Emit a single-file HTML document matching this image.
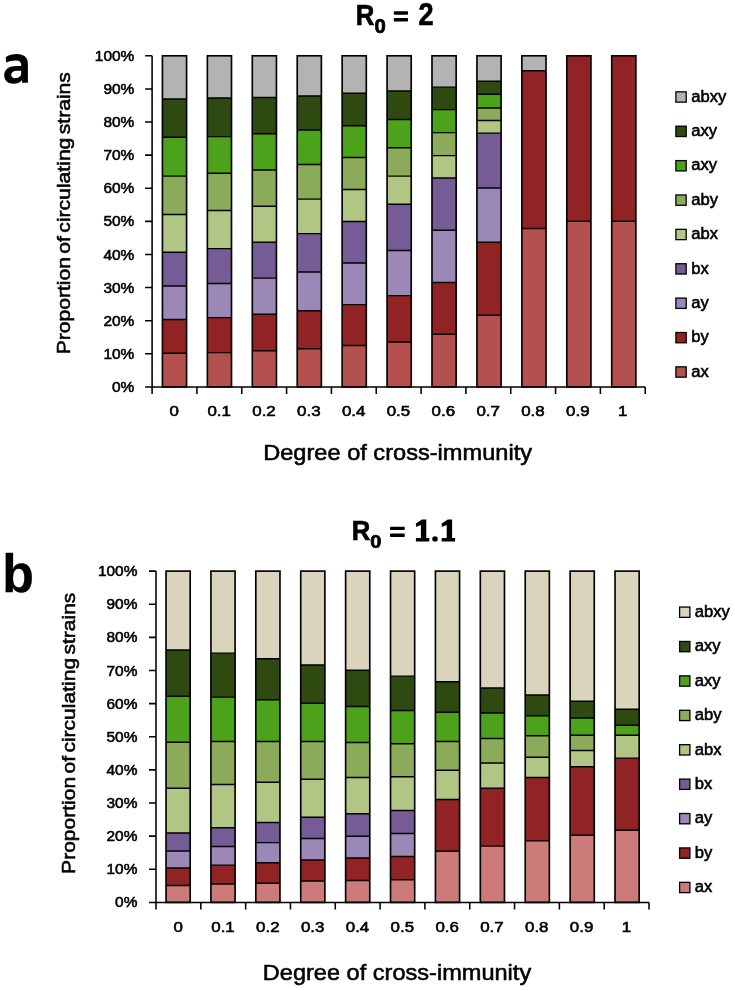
<!DOCTYPE html>
    <html><head><meta charset="utf-8"><style>
    html,body{margin:0;padding:0;background:#fff;width:735px;height:990px;overflow:hidden}
    svg{display:block;will-change:transform}
    text{font-family:"Liberation Sans", sans-serif;fill:#000}
    </style></head><body>
    <svg width="735" height="990" viewBox="0 0 735 990">
    <rect x="162.43" y="353.20" width="24.15" height="33.70" fill="#B4504D"/>
<rect x="162.43" y="319.40" width="24.15" height="33.80" fill="#922324"/>
<rect x="162.43" y="286.00" width="24.15" height="33.40" fill="#9B88B7"/>
<rect x="162.43" y="252.20" width="24.15" height="33.80" fill="#755C97"/>
<rect x="162.43" y="214.40" width="24.15" height="37.80" fill="#B1C685"/>
<rect x="162.43" y="176.10" width="24.15" height="38.30" fill="#8CAB5A"/>
<rect x="162.43" y="137.20" width="24.15" height="38.90" fill="#4DA21B"/>
<rect x="162.43" y="99.00" width="24.15" height="38.20" fill="#2F4A11"/>
<rect x="162.43" y="55.80" width="24.15" height="43.20" fill="#B3B3B3"/>
<path d="M162.43 353.20H186.57M162.43 319.40H186.57M162.43 286.00H186.57M162.43 252.20H186.57M162.43 214.40H186.57M162.43 176.10H186.57M162.43 137.20H186.57M162.43 99.00H186.57" stroke="#000" stroke-width="1.45"/>
<rect x="162.43" y="55.80" width="24.15" height="331.10" fill="none" stroke="#000" stroke-width="1.65"/>
<rect x="207.36" y="352.60" width="24.15" height="34.30" fill="#B4504D"/>
<rect x="207.36" y="317.60" width="24.15" height="35.00" fill="#922324"/>
<rect x="207.36" y="283.50" width="24.15" height="34.10" fill="#9B88B7"/>
<rect x="207.36" y="248.60" width="24.15" height="34.90" fill="#755C97"/>
<rect x="207.36" y="210.50" width="24.15" height="38.10" fill="#B1C685"/>
<rect x="207.36" y="173.30" width="24.15" height="37.20" fill="#8CAB5A"/>
<rect x="207.36" y="136.60" width="24.15" height="36.70" fill="#4DA21B"/>
<rect x="207.36" y="97.90" width="24.15" height="38.70" fill="#2F4A11"/>
<rect x="207.36" y="55.80" width="24.15" height="42.10" fill="#B3B3B3"/>
<path d="M207.36 352.60H231.50M207.36 317.60H231.50M207.36 283.50H231.50M207.36 248.60H231.50M207.36 210.50H231.50M207.36 173.30H231.50M207.36 136.60H231.50M207.36 97.90H231.50" stroke="#000" stroke-width="1.45"/>
<rect x="207.36" y="55.80" width="24.15" height="331.10" fill="none" stroke="#000" stroke-width="1.65"/>
<rect x="252.29" y="350.70" width="24.15" height="36.20" fill="#B4504D"/>
<rect x="252.29" y="314.20" width="24.15" height="36.50" fill="#922324"/>
<rect x="252.29" y="278.10" width="24.15" height="36.10" fill="#9B88B7"/>
<rect x="252.29" y="242.20" width="24.15" height="35.90" fill="#755C97"/>
<rect x="252.29" y="206.30" width="24.15" height="35.90" fill="#B1C685"/>
<rect x="252.29" y="169.90" width="24.15" height="36.40" fill="#8CAB5A"/>
<rect x="252.29" y="133.70" width="24.15" height="36.20" fill="#4DA21B"/>
<rect x="252.29" y="97.40" width="24.15" height="36.30" fill="#2F4A11"/>
<rect x="252.29" y="55.80" width="24.15" height="41.60" fill="#B3B3B3"/>
<path d="M252.29 350.70H276.44M252.29 314.20H276.44M252.29 278.10H276.44M252.29 242.20H276.44M252.29 206.30H276.44M252.29 169.90H276.44M252.29 133.70H276.44M252.29 97.40H276.44" stroke="#000" stroke-width="1.45"/>
<rect x="252.29" y="55.80" width="24.15" height="331.10" fill="none" stroke="#000" stroke-width="1.65"/>
<rect x="297.21" y="348.70" width="24.15" height="38.20" fill="#B4504D"/>
<rect x="297.21" y="310.70" width="24.15" height="38.00" fill="#922324"/>
<rect x="297.21" y="272.00" width="24.15" height="38.70" fill="#9B88B7"/>
<rect x="297.21" y="233.60" width="24.15" height="38.40" fill="#755C97"/>
<rect x="297.21" y="199.10" width="24.15" height="34.50" fill="#B1C685"/>
<rect x="297.21" y="164.40" width="24.15" height="34.70" fill="#8CAB5A"/>
<rect x="297.21" y="129.90" width="24.15" height="34.50" fill="#4DA21B"/>
<rect x="297.21" y="96.00" width="24.15" height="33.90" fill="#2F4A11"/>
<rect x="297.21" y="55.80" width="24.15" height="40.20" fill="#B3B3B3"/>
<path d="M297.21 348.70H321.36M297.21 310.70H321.36M297.21 272.00H321.36M297.21 233.60H321.36M297.21 199.10H321.36M297.21 164.40H321.36M297.21 129.90H321.36M297.21 96.00H321.36" stroke="#000" stroke-width="1.45"/>
<rect x="297.21" y="55.80" width="24.15" height="331.10" fill="none" stroke="#000" stroke-width="1.65"/>
<rect x="342.15" y="345.50" width="24.15" height="41.40" fill="#B4504D"/>
<rect x="342.15" y="304.60" width="24.15" height="40.90" fill="#922324"/>
<rect x="342.15" y="263.00" width="24.15" height="41.60" fill="#9B88B7"/>
<rect x="342.15" y="221.50" width="24.15" height="41.50" fill="#755C97"/>
<rect x="342.15" y="189.40" width="24.15" height="32.10" fill="#B1C685"/>
<rect x="342.15" y="157.40" width="24.15" height="32.00" fill="#8CAB5A"/>
<rect x="342.15" y="125.70" width="24.15" height="31.70" fill="#4DA21B"/>
<rect x="342.15" y="93.30" width="24.15" height="32.40" fill="#2F4A11"/>
<rect x="342.15" y="55.80" width="24.15" height="37.50" fill="#B3B3B3"/>
<path d="M342.15 345.50H366.30M342.15 304.60H366.30M342.15 263.00H366.30M342.15 221.50H366.30M342.15 189.40H366.30M342.15 157.40H366.30M342.15 125.70H366.30M342.15 93.30H366.30" stroke="#000" stroke-width="1.45"/>
<rect x="342.15" y="55.80" width="24.15" height="331.10" fill="none" stroke="#000" stroke-width="1.65"/>
<rect x="387.07" y="342.00" width="24.15" height="44.90" fill="#B4504D"/>
<rect x="387.07" y="295.60" width="24.15" height="46.40" fill="#922324"/>
<rect x="387.07" y="250.50" width="24.15" height="45.10" fill="#9B88B7"/>
<rect x="387.07" y="204.20" width="24.15" height="46.30" fill="#755C97"/>
<rect x="387.07" y="176.10" width="24.15" height="28.10" fill="#B1C685"/>
<rect x="387.07" y="147.80" width="24.15" height="28.30" fill="#8CAB5A"/>
<rect x="387.07" y="119.50" width="24.15" height="28.30" fill="#4DA21B"/>
<rect x="387.07" y="91.00" width="24.15" height="28.50" fill="#2F4A11"/>
<rect x="387.07" y="55.80" width="24.15" height="35.20" fill="#B3B3B3"/>
<path d="M387.07 342.00H411.22M387.07 295.60H411.22M387.07 250.50H411.22M387.07 204.20H411.22M387.07 176.10H411.22M387.07 147.80H411.22M387.07 119.50H411.22M387.07 91.00H411.22" stroke="#000" stroke-width="1.45"/>
<rect x="387.07" y="55.80" width="24.15" height="331.10" fill="none" stroke="#000" stroke-width="1.65"/>
<rect x="432.00" y="334.30" width="24.15" height="52.60" fill="#B4504D"/>
<rect x="432.00" y="282.50" width="24.15" height="51.80" fill="#922324"/>
<rect x="432.00" y="230.30" width="24.15" height="52.20" fill="#9B88B7"/>
<rect x="432.00" y="177.90" width="24.15" height="52.40" fill="#755C97"/>
<rect x="432.00" y="155.60" width="24.15" height="22.30" fill="#B1C685"/>
<rect x="432.00" y="132.60" width="24.15" height="23.00" fill="#8CAB5A"/>
<rect x="432.00" y="109.60" width="24.15" height="23.00" fill="#4DA21B"/>
<rect x="432.00" y="87.10" width="24.15" height="22.50" fill="#2F4A11"/>
<rect x="432.00" y="55.80" width="24.15" height="31.30" fill="#B3B3B3"/>
<path d="M432.00 334.30H456.15M432.00 282.50H456.15M432.00 230.30H456.15M432.00 177.90H456.15M432.00 155.60H456.15M432.00 132.60H456.15M432.00 109.60H456.15M432.00 87.10H456.15" stroke="#000" stroke-width="1.45"/>
<rect x="432.00" y="55.80" width="24.15" height="331.10" fill="none" stroke="#000" stroke-width="1.65"/>
<rect x="476.94" y="315.20" width="24.15" height="71.70" fill="#B4504D"/>
<rect x="476.94" y="242.20" width="24.15" height="73.00" fill="#922324"/>
<rect x="476.94" y="188.00" width="24.15" height="54.20" fill="#9B88B7"/>
<rect x="476.94" y="133.10" width="24.15" height="54.90" fill="#755C97"/>
<rect x="476.94" y="120.40" width="24.15" height="12.70" fill="#B1C685"/>
<rect x="476.94" y="108.00" width="24.15" height="12.40" fill="#8CAB5A"/>
<rect x="476.94" y="94.20" width="24.15" height="13.80" fill="#4DA21B"/>
<rect x="476.94" y="81.30" width="24.15" height="12.90" fill="#2F4A11"/>
<rect x="476.94" y="55.80" width="24.15" height="25.50" fill="#B3B3B3"/>
<path d="M476.94 315.20H501.08M476.94 242.20H501.08M476.94 188.00H501.08M476.94 133.10H501.08M476.94 120.40H501.08M476.94 108.00H501.08M476.94 94.20H501.08M476.94 81.30H501.08" stroke="#000" stroke-width="1.45"/>
<rect x="476.94" y="55.80" width="24.15" height="331.10" fill="none" stroke="#000" stroke-width="1.65"/>
<rect x="521.87" y="228.40" width="24.15" height="158.50" fill="#B4504D"/>
<rect x="521.87" y="70.70" width="24.15" height="157.70" fill="#922324"/>
<rect x="521.87" y="55.80" width="24.15" height="14.90" fill="#B3B3B3"/>
<path d="M521.87 228.40H546.02M521.87 70.70H546.02" stroke="#000" stroke-width="1.45"/>
<rect x="521.87" y="55.80" width="24.15" height="331.10" fill="none" stroke="#000" stroke-width="1.65"/>
<rect x="566.79" y="221.30" width="24.15" height="165.60" fill="#B4504D"/>
<rect x="566.79" y="55.80" width="24.15" height="165.50" fill="#922324"/>
<path d="M566.79 221.30H590.95" stroke="#000" stroke-width="1.45"/>
<rect x="566.79" y="55.80" width="24.15" height="331.10" fill="none" stroke="#000" stroke-width="1.65"/>
<rect x="611.72" y="221.30" width="24.15" height="165.60" fill="#B4504D"/>
<rect x="611.72" y="55.80" width="24.15" height="165.50" fill="#922324"/>
<path d="M611.72 221.30H635.88" stroke="#000" stroke-width="1.45"/>
<rect x="611.72" y="55.80" width="24.15" height="331.10" fill="none" stroke="#000" stroke-width="1.65"/>
<path d="M152.10 55.80V393.90M145.10 386.90H645.23M145.10 386.90H152.10M145.10 353.79H152.10M145.10 320.68H152.10M145.10 287.57H152.10M145.10 254.46H152.10M145.10 221.35H152.10M145.10 188.24H152.10M145.10 155.13H152.10M145.10 122.02H152.10M145.10 88.91H152.10M145.10 55.80H152.10M152.10 386.90V393.90M196.93 386.90V393.90M241.76 386.90V393.90M286.59 386.90V393.90M331.42 386.90V393.90M376.25 386.90V393.90M421.08 386.90V393.90M465.91 386.90V393.90M510.74 386.90V393.90M555.57 386.90V393.90M600.40 386.90V393.90M645.23 386.90V393.90" stroke="#000" stroke-width="1.55" fill="none"/>
<rect x="675.90" y="91.85" width="10.30" height="10.30" fill="#B3B3B3" stroke="#000" stroke-width="1.3"/>
<rect x="675.90" y="126.22" width="10.30" height="10.30" fill="#2F4A11" stroke="#000" stroke-width="1.3"/>
<rect x="675.90" y="160.60" width="10.30" height="10.30" fill="#4DA21B" stroke="#000" stroke-width="1.3"/>
<rect x="675.90" y="194.97" width="10.30" height="10.30" fill="#8CAB5A" stroke="#000" stroke-width="1.3"/>
<rect x="675.90" y="229.35" width="10.30" height="10.30" fill="#B1C685" stroke="#000" stroke-width="1.3"/>
<rect x="675.90" y="263.73" width="10.30" height="10.30" fill="#755C97" stroke="#000" stroke-width="1.3"/>
<rect x="675.90" y="298.10" width="10.30" height="10.30" fill="#9B88B7" stroke="#000" stroke-width="1.3"/>
<rect x="675.90" y="332.48" width="10.30" height="10.30" fill="#922324" stroke="#000" stroke-width="1.3"/>
<rect x="675.90" y="366.85" width="10.30" height="10.30" fill="#B4504D" stroke="#000" stroke-width="1.3"/>
<text transform="translate(134.33 391.97) scale(1.0679 1)" font-size="14.47" stroke="#000" stroke-width="0.550" text-anchor="end">0%</text>
<text transform="translate(134.33 358.86) scale(1.0679 1)" font-size="14.47" stroke="#000" stroke-width="0.550" text-anchor="end">10%</text>
<text transform="translate(134.33 325.75) scale(1.0679 1)" font-size="14.47" stroke="#000" stroke-width="0.550" text-anchor="end">20%</text>
<text transform="translate(134.33 292.64) scale(1.0679 1)" font-size="14.47" stroke="#000" stroke-width="0.550" text-anchor="end">30%</text>
<text transform="translate(134.33 259.53) scale(1.0679 1)" font-size="14.47" stroke="#000" stroke-width="0.550" text-anchor="end">40%</text>
<text transform="translate(134.33 226.42) scale(1.0679 1)" font-size="14.47" stroke="#000" stroke-width="0.550" text-anchor="end">50%</text>
<text transform="translate(134.33 193.31) scale(1.0679 1)" font-size="14.47" stroke="#000" stroke-width="0.550" text-anchor="end">60%</text>
<text transform="translate(134.33 160.20) scale(1.0679 1)" font-size="14.47" stroke="#000" stroke-width="0.550" text-anchor="end">70%</text>
<text transform="translate(134.33 127.09) scale(1.0679 1)" font-size="14.47" stroke="#000" stroke-width="0.550" text-anchor="end">80%</text>
<text transform="translate(134.33 93.98) scale(1.0679 1)" font-size="14.47" stroke="#000" stroke-width="0.550" text-anchor="end">90%</text>
<text transform="translate(134.33 60.87) scale(1.0679 1)" font-size="14.47" stroke="#000" stroke-width="0.550" text-anchor="end">100%</text>
<text transform="translate(174.32 416.45) scale(1.2327 1)" font-size="13.72" stroke="#000" stroke-width="0.550" text-anchor="middle">0</text>
<text transform="translate(219.15 416.45) scale(1.2327 1)" font-size="13.72" stroke="#000" stroke-width="0.550" text-anchor="middle">0.1</text>
<text transform="translate(263.98 416.45) scale(1.2327 1)" font-size="13.72" stroke="#000" stroke-width="0.550" text-anchor="middle">0.2</text>
<text transform="translate(308.81 416.45) scale(1.2327 1)" font-size="13.72" stroke="#000" stroke-width="0.550" text-anchor="middle">0.3</text>
<text transform="translate(353.64 416.45) scale(1.2327 1)" font-size="13.72" stroke="#000" stroke-width="0.550" text-anchor="middle">0.4</text>
<text transform="translate(398.47 416.45) scale(1.2327 1)" font-size="13.72" stroke="#000" stroke-width="0.550" text-anchor="middle">0.5</text>
<text transform="translate(443.30 416.45) scale(1.2327 1)" font-size="13.72" stroke="#000" stroke-width="0.550" text-anchor="middle">0.6</text>
<text transform="translate(488.13 416.45) scale(1.2327 1)" font-size="13.72" stroke="#000" stroke-width="0.550" text-anchor="middle">0.7</text>
<text transform="translate(532.96 416.45) scale(1.2327 1)" font-size="13.72" stroke="#000" stroke-width="0.550" text-anchor="middle">0.8</text>
<text transform="translate(577.79 416.45) scale(1.2327 1)" font-size="13.72" stroke="#000" stroke-width="0.550" text-anchor="middle">0.9</text>
<text transform="translate(622.62 416.45) scale(1.2327 1)" font-size="13.72" stroke="#000" stroke-width="0.550" text-anchor="middle">1</text>
<text transform="translate(691.30 101.72) scale(1.0609 1)" font-size="15.66" stroke="#000" stroke-width="0.550">abxy</text>
<text transform="translate(691.30 136.10) scale(1.0609 1)" font-size="15.66" stroke="#000" stroke-width="0.550">axy</text>
<text transform="translate(691.30 170.47) scale(1.0609 1)" font-size="15.66" stroke="#000" stroke-width="0.550">axy</text>
<text transform="translate(691.30 204.85) scale(1.0609 1)" font-size="15.66" stroke="#000" stroke-width="0.550">aby</text>
<text transform="translate(691.30 239.22) scale(1.0609 1)" font-size="15.66" stroke="#000" stroke-width="0.550">abx</text>
<text transform="translate(691.30 273.60) scale(1.0609 1)" font-size="15.66" stroke="#000" stroke-width="0.550">bx</text>
<text transform="translate(691.30 307.97) scale(1.0609 1)" font-size="15.66" stroke="#000" stroke-width="0.550">ay</text>
<text transform="translate(691.30 342.35) scale(1.0609 1)" font-size="15.66" stroke="#000" stroke-width="0.550">by</text>
<text transform="translate(691.30 376.72) scale(1.0609 1)" font-size="15.66" stroke="#000" stroke-width="0.550">ax</text>
<rect x="166.03" y="885.40" width="24.15" height="17.00" fill="#CC7A7A"/>
<rect x="166.03" y="868.00" width="24.15" height="17.40" fill="#922324"/>
<rect x="166.03" y="850.90" width="24.15" height="17.10" fill="#9B88B7"/>
<rect x="166.03" y="833.00" width="24.15" height="17.90" fill="#755C97"/>
<rect x="166.03" y="788.30" width="24.15" height="44.70" fill="#B1C685"/>
<rect x="166.03" y="742.30" width="24.15" height="46.00" fill="#8CAB5A"/>
<rect x="166.03" y="696.20" width="24.15" height="46.10" fill="#4DA21B"/>
<rect x="166.03" y="649.90" width="24.15" height="46.30" fill="#2F4A11"/>
<rect x="166.03" y="571.10" width="24.15" height="78.80" fill="#DAD4BD"/>
<path d="M166.03 885.40H190.17M166.03 868.00H190.17M166.03 850.90H190.17M166.03 833.00H190.17M166.03 788.30H190.17M166.03 742.30H190.17M166.03 696.20H190.17M166.03 649.90H190.17" stroke="#000" stroke-width="1.45"/>
<rect x="166.03" y="571.10" width="24.15" height="331.30" fill="none" stroke="#000" stroke-width="1.65"/>
<rect x="210.93" y="883.90" width="24.15" height="18.50" fill="#CC7A7A"/>
<rect x="210.93" y="865.10" width="24.15" height="18.80" fill="#922324"/>
<rect x="210.93" y="846.50" width="24.15" height="18.60" fill="#9B88B7"/>
<rect x="210.93" y="827.80" width="24.15" height="18.70" fill="#755C97"/>
<rect x="210.93" y="784.50" width="24.15" height="43.30" fill="#B1C685"/>
<rect x="210.93" y="741.50" width="24.15" height="43.00" fill="#8CAB5A"/>
<rect x="210.93" y="697.10" width="24.15" height="44.40" fill="#4DA21B"/>
<rect x="210.93" y="653.10" width="24.15" height="44.00" fill="#2F4A11"/>
<rect x="210.93" y="571.10" width="24.15" height="82.00" fill="#DAD4BD"/>
<path d="M210.93 883.90H235.07M210.93 865.10H235.07M210.93 846.50H235.07M210.93 827.80H235.07M210.93 784.50H235.07M210.93 741.50H235.07M210.93 697.10H235.07M210.93 653.10H235.07" stroke="#000" stroke-width="1.45"/>
<rect x="210.93" y="571.10" width="24.15" height="331.30" fill="none" stroke="#000" stroke-width="1.65"/>
<rect x="255.82" y="883.30" width="24.15" height="19.10" fill="#CC7A7A"/>
<rect x="255.82" y="862.80" width="24.15" height="20.50" fill="#922324"/>
<rect x="255.82" y="842.60" width="24.15" height="20.20" fill="#9B88B7"/>
<rect x="255.82" y="822.50" width="24.15" height="20.10" fill="#755C97"/>
<rect x="255.82" y="782.20" width="24.15" height="40.30" fill="#B1C685"/>
<rect x="255.82" y="741.50" width="24.15" height="40.70" fill="#8CAB5A"/>
<rect x="255.82" y="699.80" width="24.15" height="41.70" fill="#4DA21B"/>
<rect x="255.82" y="658.70" width="24.15" height="41.10" fill="#2F4A11"/>
<rect x="255.82" y="571.10" width="24.15" height="87.60" fill="#DAD4BD"/>
<path d="M255.82 883.30H279.97M255.82 862.80H279.97M255.82 842.60H279.97M255.82 822.50H279.97M255.82 782.20H279.97M255.82 741.50H279.97M255.82 699.80H279.97M255.82 658.70H279.97" stroke="#000" stroke-width="1.45"/>
<rect x="255.82" y="571.10" width="24.15" height="331.30" fill="none" stroke="#000" stroke-width="1.65"/>
<rect x="300.72" y="881.00" width="24.15" height="21.40" fill="#CC7A7A"/>
<rect x="300.72" y="859.90" width="24.15" height="21.10" fill="#922324"/>
<rect x="300.72" y="838.40" width="24.15" height="21.50" fill="#9B88B7"/>
<rect x="300.72" y="817.30" width="24.15" height="21.10" fill="#755C97"/>
<rect x="300.72" y="779.30" width="24.15" height="38.00" fill="#B1C685"/>
<rect x="300.72" y="741.50" width="24.15" height="37.80" fill="#8CAB5A"/>
<rect x="300.72" y="703.30" width="24.15" height="38.20" fill="#4DA21B"/>
<rect x="300.72" y="664.90" width="24.15" height="38.40" fill="#2F4A11"/>
<rect x="300.72" y="571.10" width="24.15" height="93.80" fill="#DAD4BD"/>
<path d="M300.72 881.00H324.87M300.72 859.90H324.87M300.72 838.40H324.87M300.72 817.30H324.87M300.72 779.30H324.87M300.72 741.50H324.87M300.72 703.30H324.87M300.72 664.90H324.87" stroke="#000" stroke-width="1.45"/>
<rect x="300.72" y="571.10" width="24.15" height="331.30" fill="none" stroke="#000" stroke-width="1.65"/>
<rect x="345.62" y="880.40" width="24.15" height="22.00" fill="#CC7A7A"/>
<rect x="345.62" y="858.00" width="24.15" height="22.40" fill="#922324"/>
<rect x="345.62" y="836.30" width="24.15" height="21.70" fill="#9B88B7"/>
<rect x="345.62" y="813.80" width="24.15" height="22.50" fill="#755C97"/>
<rect x="345.62" y="777.40" width="24.15" height="36.40" fill="#B1C685"/>
<rect x="345.62" y="742.40" width="24.15" height="35.00" fill="#8CAB5A"/>
<rect x="345.62" y="706.50" width="24.15" height="35.90" fill="#4DA21B"/>
<rect x="345.62" y="670.20" width="24.15" height="36.30" fill="#2F4A11"/>
<rect x="345.62" y="571.10" width="24.15" height="99.10" fill="#DAD4BD"/>
<path d="M345.62 880.40H369.77M345.62 858.00H369.77M345.62 836.30H369.77M345.62 813.80H369.77M345.62 777.40H369.77M345.62 742.40H369.77M345.62 706.50H369.77M345.62 670.20H369.77" stroke="#000" stroke-width="1.45"/>
<rect x="345.62" y="571.10" width="24.15" height="331.30" fill="none" stroke="#000" stroke-width="1.65"/>
<rect x="390.53" y="879.70" width="24.15" height="22.70" fill="#CC7A7A"/>
<rect x="390.53" y="856.40" width="24.15" height="23.30" fill="#922324"/>
<rect x="390.53" y="833.40" width="24.15" height="23.00" fill="#9B88B7"/>
<rect x="390.53" y="810.40" width="24.15" height="23.00" fill="#755C97"/>
<rect x="390.53" y="776.80" width="24.15" height="33.60" fill="#B1C685"/>
<rect x="390.53" y="743.80" width="24.15" height="33.00" fill="#8CAB5A"/>
<rect x="390.53" y="710.40" width="24.15" height="33.40" fill="#4DA21B"/>
<rect x="390.53" y="676.10" width="24.15" height="34.30" fill="#2F4A11"/>
<rect x="390.53" y="571.10" width="24.15" height="105.00" fill="#DAD4BD"/>
<path d="M390.53 879.70H414.68M390.53 856.40H414.68M390.53 833.40H414.68M390.53 810.40H414.68M390.53 776.80H414.68M390.53 743.80H414.68M390.53 710.40H414.68M390.53 676.10H414.68" stroke="#000" stroke-width="1.45"/>
<rect x="390.53" y="571.10" width="24.15" height="331.30" fill="none" stroke="#000" stroke-width="1.65"/>
<rect x="435.43" y="851.30" width="24.15" height="51.10" fill="#CC7A7A"/>
<rect x="435.43" y="799.40" width="24.15" height="51.90" fill="#922324"/>
<rect x="435.43" y="770.30" width="24.15" height="29.10" fill="#B1C685"/>
<rect x="435.43" y="741.50" width="24.15" height="28.80" fill="#8CAB5A"/>
<rect x="435.43" y="712.30" width="24.15" height="29.20" fill="#4DA21B"/>
<rect x="435.43" y="681.70" width="24.15" height="30.60" fill="#2F4A11"/>
<rect x="435.43" y="571.10" width="24.15" height="110.60" fill="#DAD4BD"/>
<path d="M435.43 851.30H459.57M435.43 799.40H459.57M435.43 770.30H459.57M435.43 741.50H459.57M435.43 712.30H459.57M435.43 681.70H459.57" stroke="#000" stroke-width="1.45"/>
<rect x="435.43" y="571.10" width="24.15" height="331.30" fill="none" stroke="#000" stroke-width="1.65"/>
<rect x="480.32" y="846.10" width="24.15" height="56.30" fill="#CC7A7A"/>
<rect x="480.32" y="788.30" width="24.15" height="57.80" fill="#922324"/>
<rect x="480.32" y="763.00" width="24.15" height="25.30" fill="#B1C685"/>
<rect x="480.32" y="738.40" width="24.15" height="24.60" fill="#8CAB5A"/>
<rect x="480.32" y="713.00" width="24.15" height="25.40" fill="#4DA21B"/>
<rect x="480.32" y="687.90" width="24.15" height="25.10" fill="#2F4A11"/>
<rect x="480.32" y="571.10" width="24.15" height="116.80" fill="#DAD4BD"/>
<path d="M480.32 846.10H504.47M480.32 788.30H504.47M480.32 763.00H504.47M480.32 738.40H504.47M480.32 713.00H504.47M480.32 687.90H504.47" stroke="#000" stroke-width="1.45"/>
<rect x="480.32" y="571.10" width="24.15" height="331.30" fill="none" stroke="#000" stroke-width="1.65"/>
<rect x="525.22" y="840.70" width="24.15" height="61.70" fill="#CC7A7A"/>
<rect x="525.22" y="777.40" width="24.15" height="63.30" fill="#922324"/>
<rect x="525.22" y="757.20" width="24.15" height="20.20" fill="#B1C685"/>
<rect x="525.22" y="735.70" width="24.15" height="21.50" fill="#8CAB5A"/>
<rect x="525.22" y="715.70" width="24.15" height="20.00" fill="#4DA21B"/>
<rect x="525.22" y="695.00" width="24.15" height="20.70" fill="#2F4A11"/>
<rect x="525.22" y="571.10" width="24.15" height="123.90" fill="#DAD4BD"/>
<path d="M525.22 840.70H549.38M525.22 777.40H549.38M525.22 757.20H549.38M525.22 735.70H549.38M525.22 715.70H549.38M525.22 695.00H549.38" stroke="#000" stroke-width="1.45"/>
<rect x="525.22" y="571.10" width="24.15" height="331.30" fill="none" stroke="#000" stroke-width="1.65"/>
<rect x="570.12" y="835.30" width="24.15" height="67.10" fill="#CC7A7A"/>
<rect x="570.12" y="766.80" width="24.15" height="68.50" fill="#922324"/>
<rect x="570.12" y="750.50" width="24.15" height="16.30" fill="#B1C685"/>
<rect x="570.12" y="735.20" width="24.15" height="15.30" fill="#8CAB5A"/>
<rect x="570.12" y="718.00" width="24.15" height="17.20" fill="#4DA21B"/>
<rect x="570.12" y="701.20" width="24.15" height="16.80" fill="#2F4A11"/>
<rect x="570.12" y="571.10" width="24.15" height="130.10" fill="#DAD4BD"/>
<path d="M570.12 835.30H594.27M570.12 766.80H594.27M570.12 750.50H594.27M570.12 735.20H594.27M570.12 718.00H594.27M570.12 701.20H594.27" stroke="#000" stroke-width="1.45"/>
<rect x="570.12" y="571.10" width="24.15" height="331.30" fill="none" stroke="#000" stroke-width="1.65"/>
<rect x="615.02" y="830.20" width="24.15" height="72.20" fill="#CC7A7A"/>
<rect x="615.02" y="758.10" width="24.15" height="72.10" fill="#922324"/>
<rect x="615.02" y="735.30" width="24.15" height="22.80" fill="#B1C685"/>
<rect x="615.02" y="725.30" width="24.15" height="10.00" fill="#4DA21B"/>
<rect x="615.02" y="709.20" width="24.15" height="16.10" fill="#2F4A11"/>
<rect x="615.02" y="571.10" width="24.15" height="138.10" fill="#DAD4BD"/>
<path d="M615.02 830.20H639.18M615.02 758.10H639.18M615.02 735.30H639.18M615.02 725.30H639.18M615.02 709.20H639.18" stroke="#000" stroke-width="1.45"/>
<rect x="615.02" y="571.10" width="24.15" height="331.30" fill="none" stroke="#000" stroke-width="1.65"/>
<path d="M156.00 571.10V909.40M149.00 902.40H649.02M149.00 902.40H156.00M149.00 869.27H156.00M149.00 836.14H156.00M149.00 803.01H156.00M149.00 769.88H156.00M149.00 736.75H156.00M149.00 703.62H156.00M149.00 670.49H156.00M149.00 637.36H156.00M149.00 604.23H156.00M149.00 571.10H156.00M156.00 902.40V909.40M200.82 902.40V909.40M245.64 902.40V909.40M290.46 902.40V909.40M335.28 902.40V909.40M380.10 902.40V909.40M424.92 902.40V909.40M469.74 902.40V909.40M514.56 902.40V909.40M559.38 902.40V909.40M604.20 902.40V909.40M649.02 902.40V909.40" stroke="#000" stroke-width="1.55" fill="none"/>
<rect x="679.60" y="607.05" width="10.30" height="10.30" fill="#DAD4BD" stroke="#000" stroke-width="1.3"/>
<rect x="679.60" y="641.46" width="10.30" height="10.30" fill="#2F4A11" stroke="#000" stroke-width="1.3"/>
<rect x="679.60" y="675.87" width="10.30" height="10.30" fill="#4DA21B" stroke="#000" stroke-width="1.3"/>
<rect x="679.60" y="710.28" width="10.30" height="10.30" fill="#8CAB5A" stroke="#000" stroke-width="1.3"/>
<rect x="679.60" y="744.69" width="10.30" height="10.30" fill="#B1C685" stroke="#000" stroke-width="1.3"/>
<rect x="679.60" y="779.10" width="10.30" height="10.30" fill="#755C97" stroke="#000" stroke-width="1.3"/>
<rect x="679.60" y="813.51" width="10.30" height="10.30" fill="#9B88B7" stroke="#000" stroke-width="1.3"/>
<rect x="679.60" y="847.92" width="10.30" height="10.30" fill="#922324" stroke="#000" stroke-width="1.3"/>
<rect x="679.60" y="882.33" width="10.30" height="10.30" fill="#CC7A7A" stroke="#000" stroke-width="1.3"/>
<text transform="translate(137.43 907.47) scale(1.0679 1)" font-size="14.47" stroke="#000" stroke-width="0.550" text-anchor="end">0%</text>
<text transform="translate(137.43 874.34) scale(1.0679 1)" font-size="14.47" stroke="#000" stroke-width="0.550" text-anchor="end">10%</text>
<text transform="translate(137.43 841.21) scale(1.0679 1)" font-size="14.47" stroke="#000" stroke-width="0.550" text-anchor="end">20%</text>
<text transform="translate(137.43 808.08) scale(1.0679 1)" font-size="14.47" stroke="#000" stroke-width="0.550" text-anchor="end">30%</text>
<text transform="translate(137.43 774.95) scale(1.0679 1)" font-size="14.47" stroke="#000" stroke-width="0.550" text-anchor="end">40%</text>
<text transform="translate(137.43 741.82) scale(1.0679 1)" font-size="14.47" stroke="#000" stroke-width="0.550" text-anchor="end">50%</text>
<text transform="translate(137.43 708.69) scale(1.0679 1)" font-size="14.47" stroke="#000" stroke-width="0.550" text-anchor="end">60%</text>
<text transform="translate(137.43 675.56) scale(1.0679 1)" font-size="14.47" stroke="#000" stroke-width="0.550" text-anchor="end">70%</text>
<text transform="translate(137.43 642.43) scale(1.0679 1)" font-size="14.47" stroke="#000" stroke-width="0.550" text-anchor="end">80%</text>
<text transform="translate(137.43 609.30) scale(1.0679 1)" font-size="14.47" stroke="#000" stroke-width="0.550" text-anchor="end">90%</text>
<text transform="translate(137.43 576.17) scale(1.0679 1)" font-size="14.47" stroke="#000" stroke-width="0.550" text-anchor="end">100%</text>
<text transform="translate(178.21 931.75) scale(1.2327 1)" font-size="13.72" stroke="#000" stroke-width="0.550" text-anchor="middle">0</text>
<text transform="translate(223.03 931.75) scale(1.2327 1)" font-size="13.72" stroke="#000" stroke-width="0.550" text-anchor="middle">0.1</text>
<text transform="translate(267.85 931.75) scale(1.2327 1)" font-size="13.72" stroke="#000" stroke-width="0.550" text-anchor="middle">0.2</text>
<text transform="translate(312.67 931.75) scale(1.2327 1)" font-size="13.72" stroke="#000" stroke-width="0.550" text-anchor="middle">0.3</text>
<text transform="translate(357.49 931.75) scale(1.2327 1)" font-size="13.72" stroke="#000" stroke-width="0.550" text-anchor="middle">0.4</text>
<text transform="translate(402.31 931.75) scale(1.2327 1)" font-size="13.72" stroke="#000" stroke-width="0.550" text-anchor="middle">0.5</text>
<text transform="translate(447.13 931.75) scale(1.2327 1)" font-size="13.72" stroke="#000" stroke-width="0.550" text-anchor="middle">0.6</text>
<text transform="translate(491.95 931.75) scale(1.2327 1)" font-size="13.72" stroke="#000" stroke-width="0.550" text-anchor="middle">0.7</text>
<text transform="translate(536.77 931.75) scale(1.2327 1)" font-size="13.72" stroke="#000" stroke-width="0.550" text-anchor="middle">0.8</text>
<text transform="translate(581.59 931.75) scale(1.2327 1)" font-size="13.72" stroke="#000" stroke-width="0.550" text-anchor="middle">0.9</text>
<text transform="translate(626.41 931.75) scale(1.2327 1)" font-size="13.72" stroke="#000" stroke-width="0.550" text-anchor="middle">1</text>
<text transform="translate(694.80 616.92) scale(1.0609 1)" font-size="15.66" stroke="#000" stroke-width="0.550">abxy</text>
<text transform="translate(694.80 651.33) scale(1.0609 1)" font-size="15.66" stroke="#000" stroke-width="0.550">axy</text>
<text transform="translate(694.80 685.74) scale(1.0609 1)" font-size="15.66" stroke="#000" stroke-width="0.550">axy</text>
<text transform="translate(694.80 720.15) scale(1.0609 1)" font-size="15.66" stroke="#000" stroke-width="0.550">aby</text>
<text transform="translate(694.80 754.56) scale(1.0609 1)" font-size="15.66" stroke="#000" stroke-width="0.550">abx</text>
<text transform="translate(694.80 788.97) scale(1.0609 1)" font-size="15.66" stroke="#000" stroke-width="0.550">bx</text>
<text transform="translate(694.80 823.38) scale(1.0609 1)" font-size="15.66" stroke="#000" stroke-width="0.550">ay</text>
<text transform="translate(694.80 857.79) scale(1.0609 1)" font-size="15.66" stroke="#000" stroke-width="0.550">by</text>
<text transform="translate(694.80 892.20) scale(1.0609 1)" font-size="15.66" stroke="#000" stroke-width="0.550">ax</text>
<text transform="translate(355.70 24.90) scale(0.8936 1)" font-size="28.82" font-weight="bold" stroke="#000" stroke-width="0.700">R</text>
<text transform="translate(374.57 32.93) scale(1.0268 1)" font-size="19.79" font-weight="bold" stroke="#000" stroke-width="0.700">0</text>
<text transform="translate(418.45 25.17) scale(0.8833 1)" font-size="30.67" font-weight="bold" stroke="#000" stroke-width="0.700">2</text>
<text transform="translate(351.80 540.43) scale(0.9147 1)" font-size="28.08" font-weight="bold" stroke="#000" stroke-width="0.700">R</text>
<text transform="translate(370.31 547.91) scale(1.1052 1)" font-size="18.16" font-weight="bold" stroke="#000" stroke-width="0.700">0</text>
<text transform="translate(2.30 591.89) scale(0.9548 1)" font-size="54.34" font-weight="bold" stroke="#000" stroke-width="0.300">b</text>
<text transform="translate(263.20 459.57) scale(1.0707 1)" font-size="22.05" stroke="#000" stroke-width="0.550">Degree of cross-immunity</text>
<text transform="translate(262.80 979.64) scale(1.0864 1)" font-size="21.70" stroke="#000" stroke-width="0.550">Degree of cross-immunity</text>
<path fill-rule="evenodd" d="M5.7 57.3C8.5 55.0 12.5 54.1 16.8 54.1C24.0 54.1 27.9 57.5 27.9 64.0L27.9 82.8L22.2 82.8L21.9 80.2C20.0 82.5 17.2 83.8 13.5 83.8C8.0 83.8 4.2 80.5 4.2 75.3C4.2 69.2 9.2 66.0 16.5 66.0L21.2 66.0L21.2 64.8C21.2 61.8 19.3 60.4 16.0 60.4C12.0 60.4 8.8 61.3 6.1 62.6ZM21.2 70.8L16.8 70.8C13.2 70.8 11.2 72.6 11.2 75.0C11.2 77.0 12.8 78.2 15.0 78.2C18.2 78.2 21.2 76.5 21.2 73.5Z"/>
<path d="M415.90 523.60L422.00 519.60L426.30 519.60L426.30 537.90L429.30 537.90L429.30 541.50L415.90 541.50L415.90 537.90L420.90 537.90L420.90 524.90L417.20 526.60Q415.90 527.0 415.90 525.8ZM441.70 523.60L447.80 519.60L452.10 519.60L452.10 537.90L455.10 537.90L455.10 541.50L441.70 541.50L441.70 537.90L446.70 537.90L446.70 524.90L443.00 526.60Q441.70 527.0 441.70 525.8ZM432.2 538.9A2.8 2.65 0 1 0 437.8 538.9A2.8 2.65 0 1 0 432.2 538.9Z"/>
<rect x="393.8" y="11.3" width="14.2" height="3.4" rx="0.7"/><rect x="393.8" y="18.1" width="14.2" height="3.4" rx="0.7"/>
<rect x="390.0" y="526.8" width="14.7" height="3.3" rx="0.7"/><rect x="390.0" y="533.5" width="14.7" height="3.4" rx="0.7"/>
<text transform="translate(70.45 354.37) rotate(-90) scale(1.1327 1)" font-size="18.64" stroke="#000" stroke-width="0.550" word-spacing="-2.2">Proportion of circulating strains</text>
<text transform="translate(75.12 873.89) rotate(-90) scale(1.1151 1)" font-size="18.87" stroke="#000" stroke-width="0.550" word-spacing="-2.2">Proportion of circulating strains</text>
    </svg>
    </body></html>
